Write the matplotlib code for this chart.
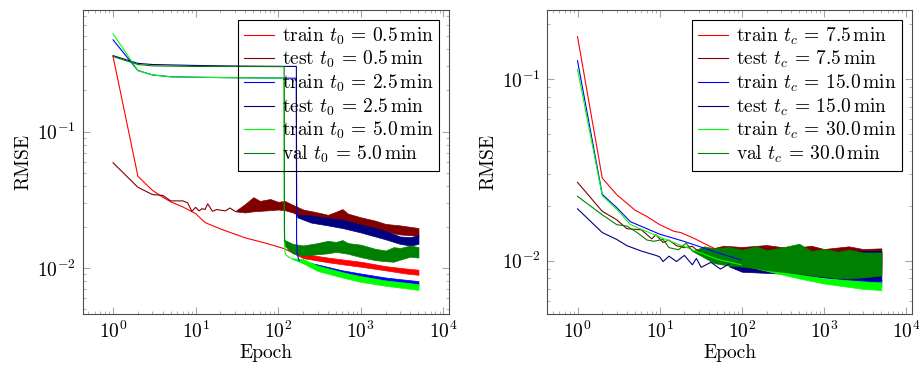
import numpy as np
import matplotlib.pyplot as plt
from matplotlib.ticker import LogLocator, NullFormatter

plt.rcParams['font.family'] = 'serif'
plt.rcParams['font.serif'] = ['cmr10']
plt.rcParams['mathtext.fontset'] = 'cm'
plt.rcParams['axes.formatter.use_mathtext'] = True

# цвета как в pgfplots
RED = '#ff0000'
DARKRED = '#800000'
BLUE = '#0000ff'
NAVY = '#000080'
LIME = '#00ff00'
GREEN = '#008000'

# ---------- левый график: t_0 ----------
# гладкая часть кривых (эпоха, RMSE)
tr05_ep = [1, 2, 3, 4, 5, 7, 10, 13, 20, 40, 70, 120]
tr05_val = [0.355, 0.047, 0.037, 0.033, 0.0305, 0.028, 0.025, 0.0215, 0.0193, 0.0166, 0.0152, 0.0138]
# шумная полоса (эпоха, нижняя и верхняя граница)
tr05_bep = [120, 200, 400, 700, 1000, 2000, 3500, 5000]
tr05_lo = [0.0138, 0.0118, 0.0110, 0.0105, 0.0102, 0.0096, 0.0091, 0.0089]
tr05_hi = [0.0138, 0.0127, 0.0119, 0.0114, 0.0111, 0.0103, 0.0099, 0.0097]

te05_ep = [1, 2, 3, 4, 5, 6, 7, 8, 9, 10, 11, 12, 13, 14, 16, 18, 20, 23, 26, 30]
te05_val = [0.059, 0.039, 0.0345, 0.034, 0.031, 0.031, 0.031, 0.030, 0.026, 0.0278,
            0.0262, 0.0272, 0.0268, 0.0295, 0.026, 0.0268, 0.0265, 0.0262, 0.0275, 0.026]
te05_bep = [30, 40, 50, 60, 80, 100, 120, 150, 200, 300, 400, 500, 600, 700, 1000, 1500, 2000, 3000, 5000]
te05_lo = [0.026, 0.0255, 0.026, 0.0262, 0.0265, 0.0268, 0.0265, 0.0255, 0.0235, 0.0222,
           0.0215, 0.0218, 0.0222, 0.0215, 0.0203, 0.0192, 0.0183, 0.0176, 0.0172]
te05_hi = [0.026, 0.0295, 0.033, 0.031, 0.032, 0.0305, 0.031, 0.029, 0.0268, 0.0255,
           0.0245, 0.0258, 0.027, 0.0250, 0.0235, 0.0222, 0.0210, 0.0205, 0.0196]

tr25_ep = [1, 2, 3, 5, 10, 30, 166, 167, 170, 180]
tr25_val = [0.47, 0.28, 0.26, 0.252, 0.25, 0.248, 0.246, 0.016, 0.0125, 0.0113]
tr25_bep = [180, 300, 600, 1000, 2000, 5000]
tr25_lo = [0.0113, 0.0098, 0.0089, 0.0085, 0.0079, 0.0074]
tr25_hi = [0.0113, 0.0106, 0.0096, 0.0091, 0.0085, 0.0080]

te25_ep = [1, 2, 3, 10, 30, 166, 167, 170]
te25_val = [0.36, 0.316, 0.31, 0.305, 0.302, 0.30, 0.03, 0.024]
te25_bep = [170, 250, 400, 600, 1000, 1500, 2000, 3000, 4000, 5000]
te25_lo = [0.0235, 0.0215, 0.0205, 0.0196, 0.0182, 0.0170, 0.0162, 0.0150, 0.0146, 0.0150]
te25_hi = [0.0245, 0.0242, 0.0232, 0.0225, 0.0208, 0.0196, 0.0186, 0.0170, 0.0168, 0.0174]

tr50_ep = [1, 2, 3, 5, 10, 30, 118, 119, 121, 125, 140]
tr50_val = [0.52, 0.28, 0.26, 0.252, 0.25, 0.248, 0.246, 0.016, 0.013, 0.0124, 0.0118]
tr50_bep = [140, 200, 300, 600, 1000, 2000, 5000]
tr50_lo = [0.0118, 0.0108, 0.0095, 0.0085, 0.0079, 0.0074, 0.0069]
tr50_hi = [0.0118, 0.0116, 0.0104, 0.0093, 0.0087, 0.0081, 0.0076]

va50_ep = [1, 2, 3, 10, 30, 118, 119, 120]
va50_val = [0.355, 0.31, 0.303, 0.30, 0.30, 0.299, 0.02, 0.0155]
va50_bep = [120, 150, 200, 300, 400, 500, 600, 700, 1000, 1500, 2000, 2500, 3000, 4000, 5000]
va50_lo = [0.0145, 0.0128, 0.0123, 0.0126, 0.0128, 0.0131, 0.0129, 0.0127, 0.0120,
           0.0114, 0.0112, 0.0111, 0.0115, 0.0121, 0.0119]
va50_hi = [0.0160, 0.0150, 0.0146, 0.0152, 0.0158, 0.0155, 0.0160, 0.0152, 0.0148,
           0.0138, 0.0134, 0.0142, 0.0140, 0.0146, 0.0142]

left_labels = [r'train $t_0 \,=\, 0.5\,\mathrm{min}$', r'test $t_0 \,=\, 0.5\,\mathrm{min}$',
               r'train $t_0 \,=\, 2.5\,\mathrm{min}$', r'test $t_0 \,=\, 2.5\,\mathrm{min}$',
               r'train $t_0 \,=\, 5.0\,\mathrm{min}$', r'val $t_0 \,=\, 5.0\,\mathrm{min}$']

# ---------- правый график: t_c ----------
tr75_ep = [1, 2, 3, 5, 7, 10, 15, 18, 26, 46]
tr75_val = [0.171, 0.0285, 0.0231, 0.019, 0.0175, 0.0158, 0.0145, 0.0143, 0.0133, 0.0117]
tr75_bep = [46, 100, 300, 1000, 3000, 5000]
tr75_lo = [0.0117, 0.0098, 0.0093, 0.0090, 0.0088, 0.0087]
tr75_hi = [0.0117, 0.0113, 0.0114, 0.0114, 0.0113, 0.0112]

te75_ep = [1, 2, 3, 4, 6, 8, 9, 11, 13, 16, 20, 25, 30]
te75_val = [0.027, 0.0187, 0.0168, 0.015, 0.0148, 0.0132, 0.0139, 0.0126, 0.013, 0.0121, 0.0118, 0.012, 0.0112]
te75_bep = [30, 60, 100, 200, 400, 700, 1000, 2000, 3000, 5000]
te75_lo = [0.0112, 0.0098, 0.0097, 0.0096, 0.0095, 0.0094, 0.0094, 0.0093, 0.0093, 0.0093]
te75_hi = [0.0112, 0.0121, 0.0119, 0.0122, 0.0117, 0.0121, 0.0116, 0.0120, 0.0116, 0.0117]

tr15_ep = [1, 2, 3, 4.4, 10, 19.6, 50, 98]
tr15_val = [0.126, 0.0232, 0.0196, 0.0164, 0.0140, 0.0128, 0.0111, 0.0101]
tr15_bep = [98, 300, 1000, 3000, 5000]
tr15_lo = [0.0101, 0.0089, 0.0081, 0.0076, 0.0074]
tr15_hi = [0.0101, 0.0093, 0.0086, 0.0081, 0.0079]

te15_ep = [1, 2, 3, 4, 6, 9, 10, 11, 13, 16, 20, 25, 28, 32, 42, 55, 70]
te15_val = [0.0193, 0.0143, 0.0131, 0.0121, 0.0113, 0.0107, 0.0105, 0.0099, 0.0106, 0.0099,
            0.0107, 0.0095, 0.0103, 0.0092, 0.0098, 0.0090, 0.0096]
te15_bep = [70, 100, 300, 1000, 3000, 5000]
te15_lo = [0.0093, 0.0087, 0.0085, 0.0081, 0.0079, 0.0078]
te15_hi = [0.0096, 0.0105, 0.0110, 0.0112, 0.0113, 0.0113]

tr30_ep = [1, 2, 3, 4.4, 10, 19.6, 50, 98]
tr30_val = [0.113, 0.0228, 0.0192, 0.0158, 0.0135, 0.0120, 0.0102, 0.0095]
tr30_bep = [98, 200, 490, 1000, 3000, 5000]
tr30_lo = [0.0095, 0.0088, 0.0080, 0.0075, 0.0070, 0.0069]
tr30_hi = [0.0095, 0.0090, 0.0084, 0.0080, 0.0077, 0.0076]

va30_ep = [1, 2, 3, 4, 5.3, 7, 8.5, 11, 13, 17, 21, 25]
va30_val = [0.0226, 0.0179, 0.0158, 0.0155, 0.0143, 0.013, 0.0128, 0.0131, 0.0118, 0.0115, 0.0125, 0.0113]
va30_bep = [25, 35, 46, 70, 100, 150, 200, 300, 500, 700, 1000, 1500, 2000, 3000, 5000]
va30_lo = [0.0113, 0.0104, 0.0097, 0.0094, 0.0093, 0.0091, 0.0089, 0.0087, 0.0085, 0.0083,
           0.0082, 0.0080, 0.0080, 0.0081, 0.0083]
va30_hi = [0.0113, 0.0120, 0.0117, 0.0119, 0.0115, 0.0120, 0.0114, 0.0118, 0.0124, 0.0113,
           0.0116, 0.0112, 0.0115, 0.0111, 0.0111]

right_labels = [r'train $t_c \,=\, 7.5\,\mathrm{min}$', r'test $t_c \,=\, 7.5\,\mathrm{min}$',
                r'train $t_c \,=\, 15.0\,\mathrm{min}$', r'test $t_c \,=\, 15.0\,\mathrm{min}$',
                r'train $t_c \,=\, 30.0\,\mathrm{min}$', r'val $t_c \,=\, 30.0\,\mathrm{min}$']

colors = [RED, DARKRED, BLUE, NAVY, LIME, GREEN]

left_series = [
    (tr05_ep, tr05_val, tr05_bep, tr05_lo, tr05_hi),
    (te05_ep, te05_val, te05_bep, te05_lo, te05_hi),
    (tr25_ep, tr25_val, tr25_bep, tr25_lo, tr25_hi),
    (te25_ep, te25_val, te25_bep, te25_lo, te25_hi),
    (tr50_ep, tr50_val, tr50_bep, tr50_lo, tr50_hi),
    (va50_ep, va50_val, va50_bep, va50_lo, va50_hi),
]
right_series = [
    (tr75_ep, tr75_val, tr75_bep, tr75_lo, tr75_hi),
    (te75_ep, te75_val, te75_bep, te75_lo, te75_hi),
    (tr15_ep, tr15_val, tr15_bep, tr15_lo, tr15_hi),
    (te15_ep, te15_val, te15_bep, te15_lo, te15_hi),
    (tr30_ep, tr30_val, tr30_bep, tr30_lo, tr30_hi),
    (va30_ep, va30_val, va30_bep, va30_lo, va30_hi),
]

FS = 14


def draw_panel(ax, series, labels, ylim):
    for (ep, val, bep, lo, hi), col, lab in zip(series, colors, labels):
        ax.plot(ep, val, color=col, lw=0.8, label=lab)
        ax.fill_between(bep, lo, hi, color=col, lw=0.5, edgecolor=col)
    ax.set_xscale('log')
    ax.set_yscale('log')
    ax.set_xlim(0.43, 1.17e4)
    ax.set_ylim(*ylim)
    ax.xaxis.set_major_locator(LogLocator(base=10, numticks=10))
    ax.xaxis.set_minor_locator(LogLocator(base=10, subs=np.arange(2, 10), numticks=20))
    ax.yaxis.set_minor_locator(LogLocator(base=10, subs=np.arange(2, 10), numticks=20))
    ax.xaxis.set_minor_formatter(NullFormatter())
    ax.yaxis.set_minor_formatter(NullFormatter())
    ax.tick_params(which='both', direction='in', top=True, right=True,
                   color='0.65', labelsize=FS, labelcolor='black')
    ax.tick_params(which='major', length=5, pad=5)
    ax.tick_params(axis='x', which='major', pad=5)
    ax.tick_params(which='minor', length=2.5)
    for sp in ax.spines.values():
        sp.set_color('0.3')
        sp.set_linewidth(0.8)
    ax.set_xlabel('Epoch', fontsize=FS, labelpad=1)
    ax.set_ylabel('RMSE', fontsize=FS, labelpad=3)
    leg = ax.legend(loc='upper right', fontsize=FS, fancybox=False, framealpha=1,
                    facecolor='none', edgecolor='black', borderaxespad=0.5,
                    handlelength=1.55, handletextpad=0.4, labelspacing=0.12,
                    borderpad=0.3)
    leg.get_frame().set_linewidth(0.8)


fig = plt.figure(figsize=(9.2, 3.65), dpi=100)
ax1 = fig.add_axes([0.090, 0.140, 0.398, 0.833])
ax2 = fig.add_axes([0.595, 0.140, 0.396, 0.833])

draw_panel(ax1, left_series, left_labels, (0.0046, 0.78))
draw_panel(ax2, right_series, right_labels, (0.0051, 0.24))

plt.savefig('out.png', dpi=100)
